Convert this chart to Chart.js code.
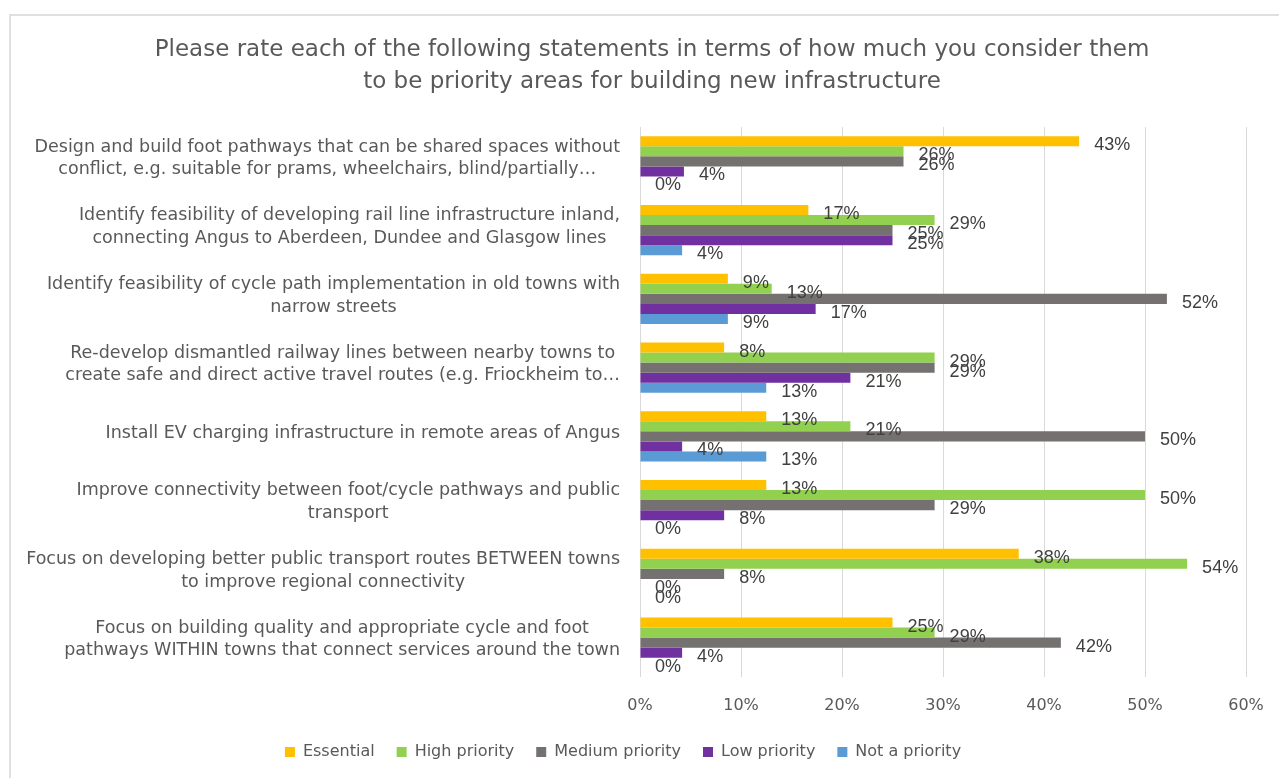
<!DOCTYPE html>
<html>
<head>
<meta charset="utf-8">
<script src="https://cdn.jsdelivr.net/npm/chart.js@4.4.1/dist/chart.umd.min.js"></script>
<style>
  html, body { margin: 0; padding: 0; background: #fff; }
  #wrap { position: relative; width: 1279px; height: 778px; overflow: hidden; }
  #frame { position: absolute; left: 9px; top: 14px; width: 1300px; height: 800px;
           border-top: 2px solid #e0e0e0; border-left: 2px solid #e0e0e0; box-sizing: border-box; }
  canvas { position: absolute; left: 0; top: 0; }
</style>
</head>
<body>
<div id="wrap">
  <div id="frame"></div>
  <canvas id="c" width="1279" height="778"></canvas>
</div>
<script>
const titleLines = [
  "Please rate each of the following statements in terms of how much you consider them",
  "to be priority areas for building new infrastructure"
];

const categories = [
  ["Design and build foot pathways that can be shared spaces without", "conflict, e.g. suitable for prams, wheelchairs, blind/partially…"],
  ["Identify feasibility of developing rail line infrastructure inland,", "connecting Angus to Aberdeen, Dundee and Glasgow lines"],
  ["Identify feasibility of cycle path implementation in old towns with", "narrow streets"],
  ["Re-develop dismantled railway lines between nearby towns to", "create safe and direct active travel routes (e.g. Friockheim to…"],
  ["Install EV charging infrastructure in remote areas of Angus"],
  ["Improve connectivity between foot/cycle pathways and public", "transport"],
  ["Focus on developing better public transport routes BETWEEN towns", "to improve regional connectivity"],
  ["Focus on building quality and appropriate cycle and foot", "pathways WITHIN towns that connect services around the town"]
];

const seriesNames = ["Essential", "High priority", "Medium priority", "Low priority", "Not a priority"];

const essential     = [0.4348, 0.1667, 0.0870, 0.0833, 0.1250, 0.1250, 0.3750, 0.2500];
const highPriority  = [0.2609, 0.2917, 0.1304, 0.2917, 0.2083, 0.5000, 0.5417, 0.2917];
const mediumPriority= [0.2609, 0.2500, 0.5217, 0.2917, 0.5000, 0.2917, 0.0833, 0.4167];
const lowPriority   = [0.0435, 0.2500, 0.1739, 0.2083, 0.0417, 0.0833, 0.0000, 0.0417];
const notPriority   = [0.0000, 0.0417, 0.0870, 0.1250, 0.1250, 0.0000, 0.0000, 0.0000];

const xTicks = [0, 0.1, 0.2, 0.3, 0.4, 0.5, 0.6];

const colors = ["#FFC000", "#92D050", "#767171", "#7030A0", "#5B9BD5"];
const seriesValues = [essential, highPriority, mediumPriority, lowPriority, notPriority];

const labelFont = "DejaVu Sans";

const titlePlugin = {
  id: 'customTitle',
  afterDraw(chart) {
    const ctx = chart.ctx;
    ctx.save();
    ctx.font = "23px '" + labelFont + "'";
    ctx.fillStyle = "#595959";
    ctx.textAlign = "center";
    ctx.textBaseline = "middle";
    titleLines.forEach((t, k) => ctx.fillText(t, 652, 50 + k * 32));
    ctx.restore();
  }
};

const catLabelPlugin = {
  id: 'catLabels',
  afterDraw(chart) {
    const ctx = chart.ctx;
    const ys = chart.scales.y;
    ctx.save();
    ctx.font = "17.5px '" + labelFont + "'";
    ctx.fillStyle = "#595959";
    ctx.textAlign = "center";
    ctx.textBaseline = "middle";
    const rightEdge = chart.chartArea.left - 20;
    const lh = 22.5;
    categories.forEach((lines, i) => {
      const cy = ys.getPixelForValue(i) - 3;
      const w = Math.max(...lines.map(l => ctx.measureText(l).width));
      const cx = rightEdge - w / 2;
      const y0 = cy - (lines.length - 1) * lh / 2;
      lines.forEach((l, k) => ctx.fillText(l, cx, y0 + k * lh));
    });
    ctx.restore();
  }
};

const valueLabelPlugin = {
  id: 'valueLabels',
  afterDatasetsDraw(chart) {
    const ctx = chart.ctx;
    ctx.save();
    ctx.font = "18px 'Liberation Sans'";
    ctx.fillStyle = "#404040";
    ctx.textAlign = "left";
    ctx.textBaseline = "middle";
    chart.data.datasets.forEach((ds, di) => {
      const meta = chart.getDatasetMeta(di);
      meta.data.forEach((el, i) => {
        const v = ds.data[i];
        ctx.fillText(Math.round(v * 100) + "%", el.x + 15, el.y + 4);
      });
    });
    ctx.restore();
  }
};

new Chart(document.getElementById('c'), {
  type: 'bar',
  data: {
    labels: categories.map(c => c.join(' ')),
    datasets: seriesNames.map((n, i) => ({
      label: n,
      data: seriesValues[i],
      backgroundColor: colors[i],
      borderWidth: 0,
      categoryPercentage: 0.73,
      barPercentage: 1.0
    }))
  },
  options: {
    responsive: false,
    animation: false,
    indexAxis: 'y',
    layout: { padding: { top: 127, left: 0, right: 33, bottom: 8 } },
    plugins: {
      title: { display: false },
      legend: {
        position: 'bottom',
        labels: {
          boxWidth: 10, boxHeight: 10,
          color: "#595959",
          font: { family: labelFont, size: 16 },
          padding: 22
        }
      },
      tooltip: { enabled: false }
    },
    scales: {
      x: {
        min: 0, max: 0.6,
        afterBuildTicks(scale) { scale.ticks = xTicks.map(v => ({ value: v })); },
        ticks: {
          callback: v => Math.round(v * 100) + "%",
          color: "#595959",
          font: { family: labelFont, size: 16 },
          padding: 19
        },
        grid: { color: "#d9d9d9", drawTicks: false },
        border: { display: false },
        afterFit(scale) { scale.height = 45; scale.paddingRight = 0; scale.paddingLeft = 0; }
      },
      y: {
        ticks: { display: false },
        grid: { display: false },
        border: { display: false },
        afterFit(scale) { scale.width = 640; }
      }
    }
  },
  plugins: [titlePlugin, catLabelPlugin, valueLabelPlugin]
});
</script>
</body>
</html>
